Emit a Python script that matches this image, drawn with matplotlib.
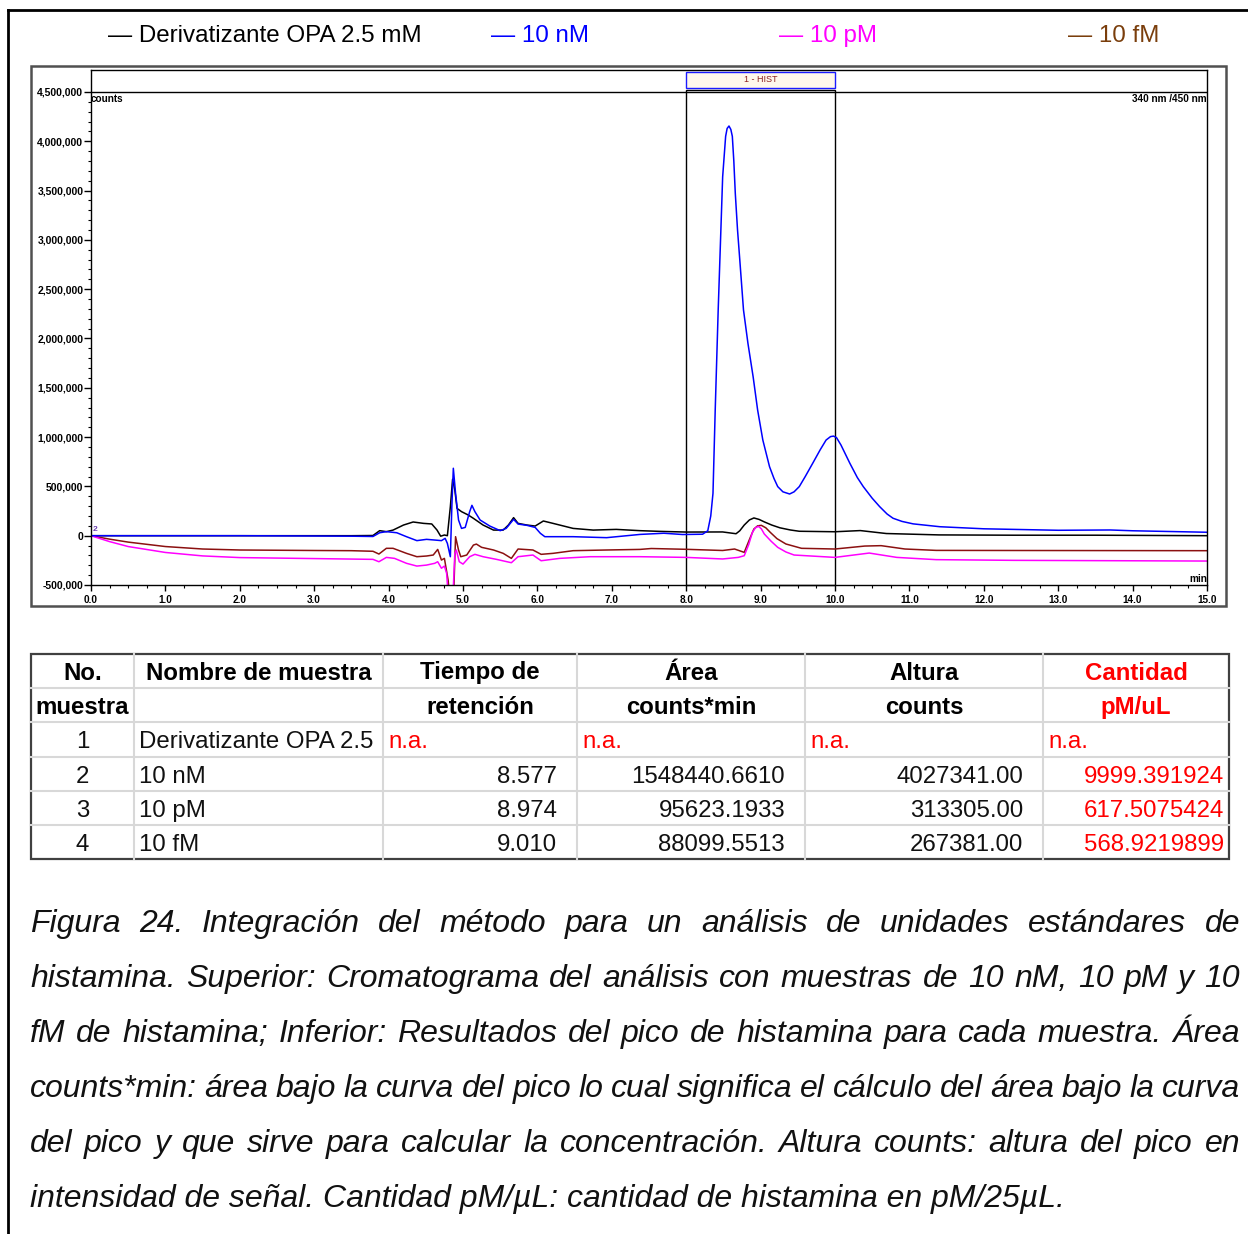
import matplotlib
matplotlib.use('Agg')
import matplotlib.pyplot as plt
import numpy as np
from matplotlib.lines import Line2D
from matplotlib.patches import Rectangle
from matplotlib.ticker import MultipleLocator

plt.rcParams['font.family'] = ['Liberation Sans', 'DejaVu Sans']

# ---------------- data ----------------
legend_labels = ['Derivatizante OPA 2.5 mM', '10 nM', '10 pM', '10 fM']

t_opa = [0, 0.5, 1, 2, 3, 3.5, 3.79, 3.88, 3.97, 4.06, 4.20, 4.33, 4.47, 4.58, 4.65, 4.70, 4.75, 4.79,
         4.83, 4.86, 4.89, 4.92, 4.98, 5.07, 5.14, 5.27, 5.41, 5.54, 5.61, 5.68, 5.74, 5.86, 5.97, 6.08,
         6.21, 6.48, 6.75, 7.06, 7.38, 7.64, 8.0, 8.49, 8.67, 8.72, 8.78, 8.85, 8.91, 8.98, 9.05, 9.15,
         9.26, 9.40, 9.52, 10.0, 10.34, 10.69, 11.4, 12.4, 13.5, 15.0]
v_opa = [0, 0, 0, 0, 0, 0, 2, 51, 41, 57, 108, 139, 125, 119, 58, -5, 7, 0,
         294, 572, 464, 277, 244, 210, 176, 108, 57, 57, 108, 183, 125, 108, 98, 149,
         125, 74, 57, 64, 51, 44, 37, 38, 20, 50, 108, 160, 180, 165, 140, 108,
         80, 58, 45, 40, 52, 22, 8, 5, 5, 0]

t_nm = [0, 1, 2, 3, 3.5, 3.79, 3.88, 3.97, 4.11, 4.24, 4.38, 4.51, 4.62, 4.71, 4.76, 4.79, 4.83, 4.85,
        4.87, 4.90, 4.94, 4.98, 5.03, 5.09, 5.12, 5.16, 5.23, 5.36, 5.50, 5.58, 5.68, 5.74, 5.86, 5.97,
        6.04, 6.10, 6.48, 6.93, 7.38, 7.70, 7.95, 8.22, 8.29, 8.33, 8.36, 8.39, 8.43, 8.46, 8.49, 8.53,
        8.55, 8.575, 8.60, 8.62, 8.64, 8.66, 8.69, 8.72, 8.77, 8.83, 8.90, 8.96, 9.03, 9.12, 9.18, 9.23,
        9.30, 9.39, 9.45, 9.52, 9.60, 9.70, 9.80, 9.88, 9.94, 9.98, 10.02, 10.08, 10.20, 10.30, 10.38,
        10.50, 10.60, 10.70, 10.78, 10.90, 11.05, 11.41, 12.0, 13.0, 13.7, 14.0, 15.0]
v_nm = [0, 0, 0, -3, -5, -8, 30, 41, 30, -10, -50, -37, -44, -50, -27, -78, -213, 294,
        684, 430, 159, 74, 84, 244, 308, 244, 159, 98, 51, 74, 166, 118, 105, 84,
        24, -10, -10, -20, 13, 25, 12, 15, 50, 200, 430, 1275, 2290, 2965, 3640, 4050,
        4130, 4155, 4120, 4050, 3800, 3470, 3100, 2800, 2290, 1950, 1610, 1275, 970, 700, 580, 498,
        445, 423, 445, 498, 600, 734, 870, 970, 1005, 1010, 995, 920, 734, 590, 498,
        380, 295, 220, 177, 145, 120, 91, 70, 55, 58, 50, 35]

t_pm = [0, 0.25, 0.5, 1.0, 1.5, 2.0, 3.0, 3.5, 3.79, 3.87, 3.97, 4.08, 4.24, 4.38, 4.51, 4.62, 4.66,
        4.71, 4.75, 4.78, 4.81, 4.86, 4.89, 4.91, 4.95, 5.0, 5.09, 5.16, 5.27, 5.45, 5.65, 5.74, 5.94,
        6.05, 6.30, 6.71, 7.38, 8.0, 8.49, 8.70, 8.78, 8.84, 8.89, 8.93, 8.97, 9.01, 9.05, 9.14, 9.23,
        9.34, 9.45, 10.0, 10.46, 10.83, 11.36, 12.4, 15.0]
v_pm = [0, -60, -110, -170, -205, -222, -232, -237, -240, -264, -220, -230, -280, -308, -298, -280, -264,
        -330, -308, -382, -700, -700, -179, -145, -264, -288, -213, -189, -213, -240, -274, -213, -196,
        -254, -230, -213, -213, -220, -236, -220, -203, -90, 34, 80, 95, 70, 17, -55, -118,
        -165, -196, -220, -176, -220, -243, -250, -257]

t_fm = [0, 0.25, 0.5, 1.0, 1.5, 2.0, 3.0, 3.5, 3.79, 3.87, 3.97, 4.06, 4.24, 4.38, 4.51, 4.60, 4.66,
        4.71, 4.75, 4.80, 4.83, 4.87, 4.90, 4.94, 4.97, 5.05, 5.14, 5.18, 5.25, 5.41, 5.54, 5.65, 5.74,
        5.94, 6.05, 6.21, 6.48, 6.93, 7.38, 7.53, 8.0, 8.49, 8.65, 8.78, 8.86, 8.91, 8.96, 9.01, 9.07,
        9.13, 9.22, 9.34, 9.55, 10.0, 10.40, 10.62, 10.94, 11.36, 12.4, 15.0]
v_fm = [0, -35, -65, -110, -135, -145, -150, -152, -158, -186, -128, -128, -179, -213, -206, -196, -139,
        -247, -230, -450, -700, -700, -10, -145, -213, -196, -95, -85, -118, -145, -179, -230, -135,
        -145, -189, -179, -152, -145, -139, -130, -138, -150, -135, -169, -20, 68, 100, 105, 80,
        34, -30, -84, -128, -135, -105, -101, -135, -149, -150, -152]

y_ticks = [-500000, 0, 500000, 1000000, 1500000, 2000000, 2500000, 3000000, 3500000, 4000000, 4500000]
y_tick_labels = ['-500,000', '0', '500,000', '1,000,000', '1,500,000', '2,000,000', '2,500,000',
                 '3,000,000', '3,500,000', '4,000,000', '4,500,000']
x_ticks = list(range(16))
x_tick_labels = ['%d.0' % i for i in range(16)]

table_header1 = ['No.', 'Nombre de muestra', 'Tiempo de', 'Área', 'Altura', 'Cantidad']
table_header2 = ['muestra', '', 'retención', 'counts*min', 'counts', 'pM/uL']
tab_no = ['1', '2', '3', '4']
tab_name = ['Derivatizante OPA 2.5', '10 nM', '10 pM', '10 fM']
tab_rt = ['n.a.', '8.577', '8.974', '9.010']
tab_area = ['n.a.', '1548440.6610', '95623.1933', '88099.5513']
tab_height = ['n.a.', '4027341.00', '313305.00', '267381.00']
tab_amount = ['n.a.', '9999.391924', '617.5075424', '568.9219899']

caption_lines = [
    "Figura 24. Integración del método para un análisis de unidades estándares de",
    "histamina. Superior: Cromatograma del análisis con muestras de 10 nM, 10 pM y 10",
    "fM de histamina; Inferior: Resultados del pico de histamina para cada muestra. Área",
    "counts*min: área bajo la curva del pico lo cual significa el cálculo del área bajo la curva",
    "del pico y que sirve para calcular la concentración. Altura counts: altura del pico en",
    "intensidad de señal. Cantidad pM/µL: cantidad de histamina en pM/25µL.",
]

# ---------------- figure ----------------
W, H = 1248, 1234
fig = plt.figure(figsize=(W / 100, H / 100), dpi=100)
fig.patch.set_facecolor('white')


def fx(x):
    return x / W


def fy(y):
    return 1 - y / H


def ftext(x, y, s, **kw):
    return fig.text(fx(x), fy(y), s, **kw)


def fline(x0, y0, x1, y1, **kw):
    fig.add_artist(Line2D([fx(x0), fx(x1)], [fy(y0), fy(y1)], transform=fig.transFigure, **kw))


# outer frame
fline(8, 10, W + 5, 10, color='black', lw=2)
fline(8, 10, 8, H + 5, color='black', lw=2)

# legend
leg_colors = ['black', '#0000ff', '#ff00ff', '#7a3e0c']
leg_x = [108, 491, 779, 1068]
for lab, c, x in zip(legend_labels, leg_colors, leg_x):
    ftext(x, 36, '\u2014 ' + lab, color=c, fontsize=17.4, va='center', ha='left')

# chart outer box
fig.add_artist(Rectangle((fx(31), fy(606)), (1226 - 31) / W, (606 - 66) / H, transform=fig.transFigure,
                         fill=False, edgecolor='#505050', lw=1.8))

ax = fig.add_axes([fx(91), fy(585), (1207 - 91) / W, (585 - 70) / H])
ax.set_xlim(0, 15)
ax.set_ylim(-500000, 4723000)
for s in ax.spines.values():
    s.set_linewidth(1.0)
    s.set_color('black')

ax.plot(t_opa, np.array(v_opa) * 1000, color='black', lw=1.1)
ax.plot(t_fm, np.array(v_fm) * 1000, color='#8b1010', lw=1.1)
ax.plot(t_pm, np.array(v_pm) * 1000, color='#ff00ff', lw=1.1)
ax.plot(t_nm, np.array(v_nm) * 1000, color='#0000ff', lw=1.1)

ax.axhline(4500000, color='black', lw=1.0)

ax.set_yticks(y_ticks)
ax.set_yticklabels(y_tick_labels, fontsize=7.5, fontweight='bold')
ax.set_xticks(x_ticks)
ax.set_xticklabels(x_tick_labels, fontsize=7.2, fontweight='bold')
ax.xaxis.set_minor_locator(MultipleLocator(0.25))
ax.tick_params(axis='y', which='major', direction='out', length=5, width=1, pad=0.5)
ax.tick_params(axis='y', which='minor', direction='out', length=2, width=0.8)
ax.tick_params(axis='x', which='major', direction='out', length=4, width=1, pad=3)
ax.tick_params(axis='x', which='minor', direction='out', length=2, width=0.8)
ax.set_yticks([v for v in np.arange(-500000, 4500001, 100000) if v not in y_ticks], minor=True)

ax.text(0.0, 4480000, 'counts', fontsize=7.2, fontweight='bold', ha='left', va='top')
ax.text(15.0, 4480000, '340 nm /450 nm', fontsize=7.2, fontweight='bold', ha='right', va='top')
ax.text(15.0, -490000, 'min', fontsize=7.2, fontweight='bold', ha='right', va='bottom')
ax.text(0.02, 60000, '2', fontsize=6, fontweight='bold', color='#6a3fb0', ha='left', va='center')

# HIST window
ax.add_patch(Rectangle((8.0, -500000), 2.0, 4525000 + 500000, fill=False, edgecolor='black', lw=1.0,
                       clip_on=False))
ax.add_patch(Rectangle((8.0, 4545000), 2.0, 4702000 - 4545000, facecolor='#fff8ec', edgecolor='#1a1aff',
                       lw=1.0, clip_on=False))
ax.text(9.0, 4623000, '1 - HIST', fontsize=6.5, color='#8b2020', ha='center', va='center')

# ---------------- table ----------------
col_x = [31, 134, 383, 577, 805, 1043, 1229]
row_y = [654, 688, 722, 757, 791, 825, 859]
grid_c = '#d8d8d8'
for x in col_x[1:-1]:
    fline(x, row_y[0], x, row_y[-1], color=grid_c, lw=1.5)
for y in row_y[1:-1]:
    fline(col_x[0], y, col_x[-1], y, color=grid_c, lw=1.5)
fig.add_artist(Rectangle((fx(31), fy(859)), (1229 - 31) / W, (859 - 654) / H, transform=fig.transFigure,
                         fill=False, edgecolor='#404040', lw=1.6))

fs_t = 17.3
red = '#ff0000'
centers = [(col_x[i] + col_x[i + 1]) / 2 for i in range(6)]
y_h1 = (row_y[0] + row_y[1]) / 2 + 2
y_h2 = (row_y[1] + row_y[2]) / 2 + 2
for i in range(6):
    c = red if i == 5 else 'black'
    ftext(centers[i], y_h1, table_header1[i], fontsize=fs_t, fontweight='bold', color=c, ha='center', va='center')
    if table_header2[i]:
        ftext(centers[i], y_h2, table_header2[i], fontsize=fs_t, fontweight='bold', color=c, ha='center',
              va='center')

right_x = [557, 785, 1023, 1224]
left_na = [388, 582, 810, 1048]
for r in range(4):
    yc = (row_y[r + 2] + row_y[r + 3]) / 2 + 3
    ftext(centers[0], yc, tab_no[r], fontsize=fs_t, color='#111111', ha='center', va='center')
    ftext(139, yc, tab_name[r], fontsize=fs_t, color='#111111', ha='left', va='center')
    vals = [tab_rt[r], tab_area[r], tab_height[r], tab_amount[r]]
    for k, v in enumerate(vals):
        if v == 'n.a.':
            ftext(left_na[k], yc, v, fontsize=fs_t, color=red, ha='left', va='center')
        else:
            c = red if k == 3 else '#111111'
            ftext(right_x[k], yc, v, fontsize=fs_t, color=c, ha='right', va='center')

# ---------------- caption (justified) ----------------
renderer = fig.canvas.get_renderer()
fs_c = 23.0
x_left, x_right = 30, 1240
line_y = [924, 979, 1034, 1089, 1144, 1199]
for li, (line, yc) in enumerate(zip(caption_lines, line_y)):
    if li == len(caption_lines) - 1:
        ftext(x_left, yc, line, fontsize=fs_c, style='italic', color='#111111', ha='left', va='center')
        continue
    words = line.split(' ')
    objs = [ftext(0, yc, w, fontsize=fs_c, style='italic', color='#111111', ha='left', va='center')
            for w in words]
    widths = [o.get_window_extent(renderer=renderer).width for o in objs]
    gap = (x_right - x_left - sum(widths)) / (len(words) - 1)
    x = x_left
    for o, w in zip(objs, widths):
        o.set_x(fx(x))
        x += w + gap

fig.savefig('out.png', dpi=100, facecolor='white')
